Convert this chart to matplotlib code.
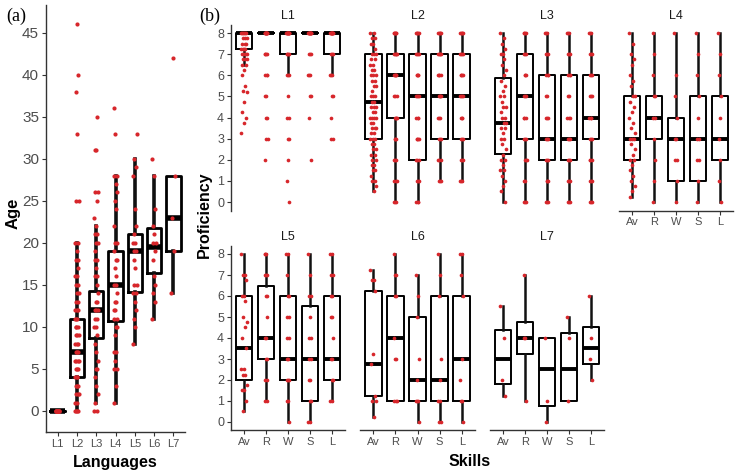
import numpy as np
import matplotlib
matplotlib.use("Agg")
import matplotlib.pyplot as plt

plt.rcParams['font.family'] = ['Liberation Sans', 'DejaVu Sans']

# ---------------- Panel (a): age of acquisition per language ----------------
languages = ["L1", "L2", "L3", "L4", "L5", "L6", "L7"]
age_q1 = [0, 4, 8.7, 10.7, 14.2, 16.4, 19]
age_med = [0, 7, 12, 15, 19, 19.5, 23]
age_q3 = [0, 11, 14.3, 19, 21, 21.8, 28]
age_lo = [0, 0, 1, 1, 8, 11, 14]
age_hi = [0, 20, 22, 28, 30, 28, 28]

age_L1 = [0] * 16
age_L2 = [0, 0, 0, 0, 1, 1, 2, 2, 2, 3, 3, 3, 4, 4, 4, 5, 5, 5, 6, 6, 6, 6, 7, 7, 7,
          8, 8, 8, 9, 9, 9, 10, 10, 10, 11, 11, 11, 12, 12, 12, 13, 13, 14, 14, 15, 15,
          16, 16, 17, 18, 18, 19, 20, 20, 25, 25, 33, 38, 40, 46]
age_L3 = [0, 0, 1, 2, 3, 4, 5, 5, 6, 7, 8, 9, 10, 10, 11, 11, 12, 12, 12, 13, 13, 14,
          15, 16, 16, 17, 18, 18, 19, 20, 20, 21, 21, 22, 23, 25, 26, 26, 31, 31, 35]
age_L4 = [1, 3, 5, 5, 6, 7, 7, 9, 10, 10, 11, 11, 12, 12, 13, 13, 14, 15, 15, 16, 17,
          18, 18, 19, 20, 20, 22, 24, 25, 26, 27, 28, 28, 33, 36]
age_L5 = [8, 10, 11, 12, 13, 14, 14, 15, 15, 17, 18, 19, 19, 20, 20, 21, 22, 24, 28, 29, 30, 33]
age_L6 = [11, 13, 14, 15, 16, 18, 19, 20, 20, 21, 22, 24, 28, 30]
age_L7 = [14, 19, 23, 28, 42]
age_points = [age_L1, age_L2, age_L3, age_L4, age_L5, age_L6, age_L7]

# ---------------- Panel (b): proficiency per skill, facet per language ----------------
skills = ["Av", "R", "W", "S", "L"]
facets = ["L1", "L2", "L3", "L4", "L5", "L6", "L7"]

prof_q1 = {"L1": [7.25, 8, 7, 8, 7], "L2": [3, 4, 2, 3, 3], "L3": [2.27, 3, 2, 2, 3],
           "L4": [2, 3, 1, 1, 2], "L5": [2, 3, 2, 1, 2], "L6": [1.25, 1, 1, 1, 1],
           "L7": [1.8, 3.25, 0.75, 1, 2.75]}
prof_med = {"L1": [8, 8, 8, 8, 8], "L2": [4.75, 6, 5, 5, 5], "L3": [3.76, 5, 3, 3, 4],
            "L4": [3, 4, 3, 3, 3], "L5": [3.5, 4, 3, 3, 3], "L6": [2.75, 4, 2, 2, 3],
            "L7": [3, 4, 2.5, 2.5, 3.5]}
prof_q3 = {"L1": [8, 8, 8, 8, 8], "L2": [7, 7, 7, 7, 7], "L3": [5.88, 7, 6, 6, 6],
           "L4": [5, 5, 4, 5, 5], "L5": [6, 6.5, 6, 5.5, 6], "L6": [6.25, 6, 5, 6, 6],
           "L7": [4.4, 4.75, 4, 4.25, 4.5]}
prof_lo = {"L1": [6.5, 8, 6, 8, 6], "L2": [0.5, 0, 0, 1, 1], "L3": [0, 0, 0, 0, 0],
           "L4": [0.25, 0, 0, 0, 0], "L5": [0.5, 1, 0, 0, 1], "L6": [0.25, 1, 0, 0, 0],
           "L7": [1.25, 1, 0, 1, 2]}
prof_hi = {"L1": [8, 8, 8, 8, 8], "L2": [8, 8, 8, 8, 8], "L3": [8, 8, 8, 8, 8],
           "L4": [8, 8, 8, 8, 8], "L5": [8, 8, 8, 8, 8], "L6": [7.25, 8, 7, 8, 8],
           "L7": [5.5, 7, 4, 5, 6]}

prof_points = {
    "L1": [
        [8, 8, 8, 8, 8, 8, 7.75, 7.75, 7.75, 7.5, 7.5, 7.5, 7.25, 7.25, 7.25, 7.25, 7, 7, 7, 7,
         6.75, 6.75, 6.75, 6.5, 6.5, 6.25, 6, 5.5, 5.25, 5.2, 4.75, 4.25, 4, 3.75, 3.25],
        [8] * 10 + [7, 7, 7, 7, 6, 6, 6, 5, 5, 4, 4, 3, 3, 2],
        [8] * 10 + [7, 7, 7, 7, 6, 6, 6, 5, 4, 4, 3, 3, 2, 1, 0],
        [8] * 10 + [7, 7, 7, 6, 6, 6, 5, 5, 4, 2],
        [8] * 10 + [7, 7, 7, 6, 6, 6, 5, 5, 4, 3, 3],
    ],
    "L2": [
        [8, 8, 7.75, 7.75, 7.5, 7.5, 7.25, 7, 7, 7, 6.75, 6.75, 6.5, 6.5, 6.25, 6.25, 6, 6, 6,
         5.75, 5.75, 5.5, 5.5, 5.25, 5, 5, 5, 4.75, 4.75, 4.5, 4.5, 4.5, 4.25, 4.25, 4, 4, 4, 4,
         3.75, 3.75, 3.5, 3.5, 3.5, 3.25, 3.25, 3, 3, 3, 2.75, 2.75, 2.5, 2.5, 2.25, 2.25, 2, 2,
         1.75, 1.75, 1.5, 1.5, 1.25, 1, 1, 0.75, 0.5],
        [8] * 6 + [7] * 5 + [6] * 5 + [5] * 3 + [4] * 4 + [3] * 3 + [2] * 3 + [1] * 3 + [0] * 3,
        [8] * 5 + [7] * 4 + [6] * 4 + [5] * 4 + [4] * 3 + [3] * 4 + [2] * 3 + [1] * 3 + [0] * 3,
        [8] * 5 + [7] * 5 + [6] * 4 + [5] * 4 + [4] * 3 + [3] * 3 + [2] * 3 + [1] * 3,
        [8] * 5 + [7] * 4 + [6] * 4 + [5] * 4 + [4] * 3 + [3] * 3 + [2] * 3 + [1] * 3,
    ],
    "L3": [
        [8, 7.75, 7.5, 7.25, 7, 7, 6.75, 6.5, 6.25, 6, 5.75, 5.5, 5.25, 5, 5, 4.75, 4.5, 4.5,
         4.25, 4, 4, 3.75, 3.75, 3.5, 3.5, 3.25, 3, 3, 2.75, 2.5, 2.25, 2, 2, 1.75, 1.5, 1.5,
         1.25, 1, 0.75, 0.5, 0],
        [8] * 4 + [7] * 3 + [6] * 3 + [5] * 3 + [4] * 3 + [3] * 3 + [2] * 3 + [1] * 2 + [0] * 3,
        [8] * 3 + [7] * 3 + [6] * 3 + [5] * 2 + [4] * 3 + [3] * 3 + [2] * 3 + [1] * 3 + [0] * 3,
        [8] * 3 + [7] * 3 + [6] * 3 + [5] * 2 + [4] * 3 + [3] * 3 + [2] * 3 + [1] * 3 + [0] * 3,
        [8] * 3 + [7] * 3 + [6] * 3 + [5] * 3 + [4] * 3 + [3] * 3 + [2] * 3 + [1] * 3 + [0] * 3,
    ],
    "L4": [
        [8, 7.5, 7, 6.75, 6.5, 6, 5.75, 5.5, 5, 5, 4.75, 4.5, 4.25, 4, 3.75, 3.5, 3.25, 3, 3, 3,
         2.75, 2.5, 2.25, 2, 2, 1.75, 1.5, 1.25, 1, 0.75, 0.5, 0.25],
        [8, 7, 6, 5, 5, 4, 4, 3, 2, 1, 0],
        [8, 6, 5, 4, 3, 3, 2, 2, 1, 0],
        [8, 7, 6, 5, 4, 3, 3, 2, 2, 1, 0],
        [8, 7, 6, 5, 4, 3, 2, 1, 0],
    ],
    "L5": [
        [8, 7, 7, 6.75, 6, 6, 5.75, 5, 4.75, 4.5, 4, 3.5, 2.5, 2.5, 2.25, 2.25, 1.75, 1.5, 1.5, 1, 0.5],
        [8, 8, 8, 7, 7, 7, 6, 6, 5, 4, 4, 3, 3, 2, 2, 1, 1],
        [8, 8, 7, 6, 6, 5, 5, 4, 4, 3, 3, 2, 2, 2, 1, 1, 0],
        [8, 7, 6, 6, 5, 4, 4, 3, 3, 2, 2, 1, 1, 0, 0],
        [8, 8, 7, 7, 6, 6, 5, 5, 4, 3, 3, 2, 2, 1, 1],
    ],
    "L6": [
        [7.25, 6.75, 6.75, 6.25, 3.25, 2.75, 1.25, 1, 1, 0.25],
        [8, 7, 7, 6, 6, 4, 3, 3, 1, 1, 1],
        [7, 6, 5, 3, 2, 1, 1, 1, 0],
        [8, 7, 6, 3, 2, 1, 1, 0, 0],
        [8, 8, 7, 6, 3, 2, 1, 1, 0],
    ],
    "L7": [
        [5.5, 4, 2, 1.25],
        [7, 4, 4, 1],
        [4, 1, 0],
        [5, 4, 1],
        [6, 4, 3, 2],
    ],
}

RED = "#d7262b"
GRID_TXT = "#4d4d4d"


def jitter(n, w):
    k = np.arange(n)
    return ((k * 0.6180339887) % 1.0 - 0.5) * 2 * w


def draw_boxes(ax, q1, med, q3, lo, hi, pts, lw_box, lw_wh, lw_med, jw_av, jw, ms):
    stats = []
    for i in range(len(q1)):
        stats.append(dict(med=med[i], q1=q1[i], q3=q3[i], whislo=lo[i], whishi=hi[i], fliers=[]))
    pos = np.arange(1, len(q1) + 1)
    ax.bxp(stats, positions=pos, widths=0.75, showfliers=False, showcaps=False,
           patch_artist=False,
           boxprops=dict(color="black", linewidth=lw_box),
           whiskerprops=dict(color="#111111", linewidth=lw_wh),
           medianprops=dict(color="black", linewidth=lw_med, solid_capstyle="butt"))
    for i, p in enumerate(pts):
        y = np.asarray(p, dtype=float)
        w = jw_av if i == 0 else jw
        x = pos[i] + jitter(len(y), w)
        ax.scatter(x, y, s=ms, color=RED, zorder=5, linewidths=0)


fig = plt.figure(figsize=(7.4, 4.75), dpi=100)
W, H = 740.0, 475.0


def add_ax(x0, y_top, x1, y_bot):
    return fig.add_axes([x0 / W, 1 - y_bot / H, (x1 - x0) / W, (y_bot - y_top) / H])


# ----- panel (a)
axa = add_ax(46, 5, 185, 432)
draw_boxes(axa, age_q1, age_med, age_q3, age_lo, age_hi, age_points,
           lw_box=2.0, lw_wh=2.6, lw_med=4.0, jw_av=0.1, jw=0.1, ms=9)
axa.set_xlim(0.4, 7.6)
axa.set_ylim(-2.5, 48.3)
axa.set_yticks(range(0, 46, 5))
axa.set_xticks(range(1, 8))
axa.set_xticklabels(languages)
for s in ["top", "right"]:
    axa.spines[s].set_visible(False)
for s in ["left", "bottom"]:
    axa.spines[s].set_linewidth(1.0)
    axa.spines[s].set_color("#333333")
axa.tick_params(axis="y", labelsize=11, colors="#333333", labelcolor=GRID_TXT, length=3, pad=2)
axa.tick_params(axis="x", labelsize=8, colors="#333333", labelcolor=GRID_TXT, length=3, pad=2)
fig.text(13 / W, 1 - 213 / H, "Age", rotation=90, ha="center", va="center",
         fontsize=12, fontweight="bold")
fig.text(115 / W, 1 - 462 / H, "Languages", ha="center", va="center",
         fontsize=11.5, fontweight="bold")
fig.text(16 / W, 1 - 16 / H, "(a)", ha="center", va="center", fontsize=13,
         family=["Liberation Serif", "DejaVu Serif"])

# ----- panel (b)
cols = [(231, 345), (360, 475), (490, 604), (619, 733)]
rows = [(24.6, 210.5), (245.6, 430.4)]
layout = {"L1": (0, 0), "L2": (0, 1), "L3": (0, 2), "L4": (0, 3),
          "L5": (1, 0), "L6": (1, 1), "L7": (1, 2)}

for name in facets:
    r, c = layout[name]
    x0, x1 = cols[c]
    yt, yb = rows[r]
    ax = add_ax(x0, yt, x1, yb)
    draw_boxes(ax, prof_q1[name], prof_med[name], prof_q3[name], prof_lo[name],
               prof_hi[name], prof_points[name],
               lw_box=1.4, lw_wh=1.8, lw_med=2.8, jw_av=0.14, jw=0.07, ms=7)
    ax.set_xlim(0.4, 5.6)
    ax.set_ylim(-0.4, 8.4)
    ax.set_xticks(range(1, 6))
    ax.set_yticks(range(0, 9))
    for s in ["top", "right"]:
        ax.spines[s].set_visible(False)
    show_x = (r == 1) or name == "L4"
    show_y = (c == 0)
    ax.spines["bottom"].set_visible(show_x)
    ax.spines["left"].set_visible(show_y)
    for s in ["left", "bottom"]:
        ax.spines[s].set_linewidth(1.0)
        ax.spines[s].set_color("#333333")
    if show_x:
        ax.set_xticklabels(skills)
        ax.tick_params(axis="x", labelsize=8, colors="#333333", labelcolor=GRID_TXT, length=3, pad=2)
    else:
        ax.tick_params(axis="x", bottom=False, labelbottom=False)
    if show_y:
        ax.tick_params(axis="y", labelsize=9, colors="#333333", labelcolor=GRID_TXT, length=3, pad=2)
    else:
        ax.tick_params(axis="y", left=False, labelleft=False)
    ax.patch.set_alpha(0)
    fig.text((x0 + x1) / 2 / W, 1 - (yt - 9) / H, name, ha="center", va="center",
             fontsize=9, color="#1a1a1a")

fig.text(204 / W, 1 - 215 / H, "Proficiency", rotation=90, ha="center", va="center",
         fontsize=11.5, fontweight="bold")
fig.text(470 / W, 1 - 461 / H, "Skills", ha="center", va="center",
         fontsize=11.5, fontweight="bold")
fig.text(210 / W, 1 - 16 / H, "(b)", ha="center", va="center", fontsize=13,
         family=["Liberation Serif", "DejaVu Serif"])

fig.savefig("out.png", dpi=100)
